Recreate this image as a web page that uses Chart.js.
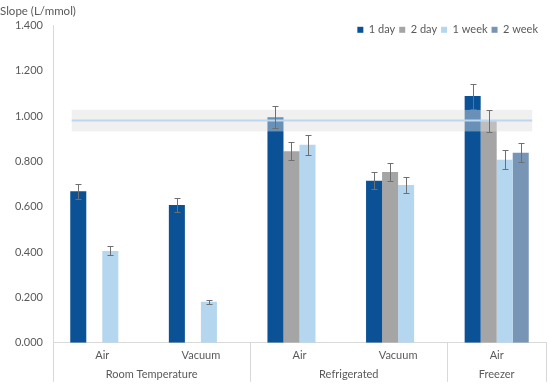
<!DOCTYPE html>
<html>
<head>
<meta charset="utf-8">
<script src="https://cdn.jsdelivr.net/npm/chart.js@4.4.1/dist/chart.umd.min.js"></script>
<style>
  html, body { margin: 0; padding: 0; background: #fff; }
  #wrap { width: 550px; height: 387px; }
</style>
</head>
<body>
<div id="wrap"><canvas id="grafico"></canvas></div>
<script>
const categorias = ['Air', 'Vacuum', 'Air', 'Vacuum', 'Air'];
const grupos = ['Room Temperature', 'Refrigerated', 'Freezer'];
const gruposTamanho = [2, 2, 1];
const series = ['1 day', '2 day', '1 week', '2 week'];
const dia1 = [0.668, 0.608, 0.995, 0.715, 1.088];
const dia1Erro = [0.034, 0.030, 0.048, 0.036, 0.055];
const dia2 = [null, null, 0.845, 0.753, 0.977];
const dia2Erro = [null, null, 0.041, 0.040, 0.048];
const semana1 = [0.405, 0.181, 0.873, 0.696, 0.807];
const semana1Erro = [0.020, 0.008, 0.043, 0.034, 0.042];
const semana2 = [null, null, null, null, 0.838];
const semana2Erro = [null, null, null, null, 0.042];
const referencia = 0.980;
const referenciaFaixa = [0.932, 1.027];
const yTicks = [0, 0.2, 0.4, 0.6, 0.8, 1.0, 1.2, 1.4];

const erros = [dia1Erro, dia2Erro, semana1Erro, semana2Erro];
const cores = ['#0a5196', '#a5a5a5', '#b4d6ee', '#7895b6'];
const textoCor = '#595959';
const fonte = 'Lato, "DejaVu Sans", sans-serif';

// faixa de referencia + linha, barras de erro, grupos do eixo x
const extras = {
  id: 'extras',
  afterDatasetsDraw(chart) {
    const ctx = chart.ctx;
    const x = chart.scales.x, y = chart.scales.y;
    const passo = x.getPixelForValue(1) - x.getPixelForValue(0);
    const esq = x.getPixelForValue(0) - 0.31 * passo;
    const dir = x.getPixelForValue(4) + 0.36 * passo;
    ctx.save();
    const yA = y.getPixelForValue(referenciaFaixa[1]);
    const yB = y.getPixelForValue(referenciaFaixa[0]);
    ctx.fillStyle = 'rgba(222, 222, 222, 0.45)';
    ctx.fillRect(esq, yA, dir - esq, yB - yA);
    ctx.strokeStyle = '#bdd7ee';
    ctx.lineWidth = 2;
    ctx.beginPath();
    const yr = y.getPixelForValue(referencia);
    ctx.moveTo(esq, yr);
    ctx.lineTo(dir, yr);
    ctx.stroke();

    ctx.strokeStyle = '#6f6f6f';
    ctx.lineWidth = 1;
    chart.data.datasets.forEach((ds, i) => {
      const meta = chart.getDatasetMeta(i);
      ds.data.forEach((v, j) => {
        if (v === null || erros[i][j] == null) return;
        const bx = Math.round(meta.data[j].x) + 0.5;
        const t = Math.round(y.getPixelForValue(v + erros[i][j])) + 0.5;
        const b = Math.round(y.getPixelForValue(v - erros[i][j])) + 0.5;
        ctx.beginPath();
        ctx.moveTo(bx, t); ctx.lineTo(bx, b);
        ctx.moveTo(bx - 3, t); ctx.lineTo(bx + 3, t);
        ctx.moveTo(bx - 3, b); ctx.lineTo(bx + 3, b);
        ctx.stroke();
      });
    });
    ctx.restore();
  },
  afterDraw(chart) {
    const ctx = chart.ctx;
    const x = chart.scales.x;
    const area = chart.chartArea;
    const passo = x.getPixelForValue(1) - x.getPixelForValue(0);
    const borda = i => x.getPixelForValue(0) + (i - 0.5) * passo;
    ctx.save();
    ctx.strokeStyle = '#d9d9d9';
    ctx.lineWidth = 1;
    ctx.fillStyle = textoCor;
    ctx.font = '11px ' + fonte;
    ctx.textAlign = 'center';
    ctx.textBaseline = 'middle';
    let ini = 0;
    const linha = px => {
      ctx.beginPath();
      ctx.moveTo(Math.round(px) + 0.5, area.bottom);
      ctx.lineTo(Math.round(px) + 0.5, area.bottom + 39);
      ctx.stroke();
    };
    linha(borda(0));
    grupos.forEach((g, k) => {
      const fim = ini + gruposTamanho[k];
      linha(borda(fim));
      ctx.fillText(g, (borda(ini) + borda(fim)) / 2, area.bottom + 32);
      ini = fim;
    });
    ctx.restore();
  }
};

const ctx = document.getElementById('grafico').getContext('2d');
// legenda sobreposta ao topo da area do grafico
const legendaBaixa = {
  id: 'legendaBaixa',
  beforeInit(chart) {
    const lg = chart.legend;
    const fitOrig = lg.fit;
    lg.fit = function () {
      fitOrig.bind(lg)();
      this.height = 0;
    };
    lg.draw = function () {
      if (!this.options.display) return;
      this.ctx.save();
      this.ctx.translate(-4, -5);
      this._draw();
      this.ctx.restore();
    };
  }
};

const chart = new Chart(ctx, {
  type: 'bar',
  data: {
    labels: categorias,
    datasets: [dia1, dia2, semana1, semana2].map((d, i) => ({
      label: series[i],
      data: d,
      backgroundColor: cores[i],
      borderWidth: 0,
      categoryPercentage: 0.65,
      barPercentage: 1
    }))
  },
  options: {
    responsive: true,
    maintainAspectRatio: false,
    animation: false,
    layout: { padding: { top: 2, right: 4, bottom: 19, left: 0 } },
    plugins: {
      title: {
        display: true,
        text: 'Slope (L/mmol)',
        align: 'start',
        color: textoCor,
        font: { family: fonte, size: 11.5, weight: 'normal' },
        padding: { top: 2, bottom: 7.5 }
      },
      legend: {
        position: 'top',
        align: 'end',
        labels: {
          color: textoCor,
          font: { family: fonte, size: 11 },
          boxWidth: 6,
          boxHeight: 6,
          padding: 4
        }
      },
      tooltip: { enabled: false }
    },
    scales: {
      x: {
        grid: { display: false, drawTicks: false },
        border: { color: '#d9d9d9' },
        ticks: { color: textoCor, font: { family: fonte, size: 11 }, padding: 6 }
      },
      y: {
        min: 0,
        max: 1.4,
        afterBuildTicks: s => { s.ticks = yTicks.map(v => ({ value: v })); },
        afterFit: s => { s.width = 53; },
        grid: { display: false, drawTicks: false },
        border: { color: '#d9d9d9' },
        ticks: {
          color: textoCor,
          font: { family: fonte, size: 11 },
          padding: 10,
          callback: v => v.toFixed(3)
        }
      }
    }
  },
  plugins: [legendaBaixa, extras]
});
</script>
</body>
</html>
